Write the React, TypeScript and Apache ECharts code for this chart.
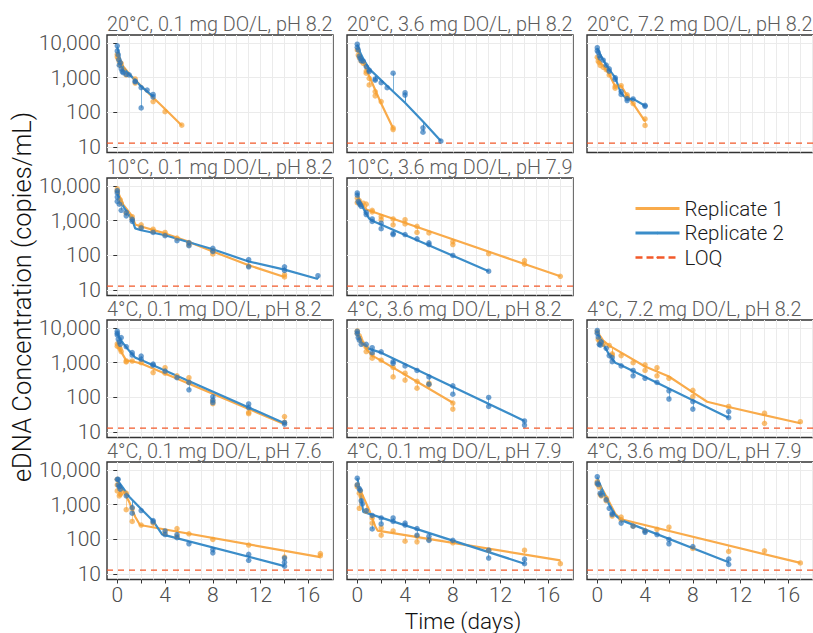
import React, { useEffect, useRef } from "react";
import * as echarts from "echarts";

type Pt = [number, number];

// ---------- axis constants ----------
const X_MIN = -0.86;
const X_MAX = 18.06;
const Y_MIN = 7;
const Y_MAX = 17000;
const LOQ = 13;
const X_LABEL_VALUES = [0, 4, 8, 12, 16];
const X_TICK_VALUES = [0, 2, 4, 6, 8, 10, 12, 14, 16];
const X_GRID_VALUES = [0, 1, 2, 3, 4, 5, 6, 7, 8, 9, 10, 11, 12, 13, 14, 15, 16, 17, 18];
const Y_TICK_VALUES = [10, 100, 1000, 10000];

const TITLES = [
  "20°C, 0.1 mg DO/L, pH 8.2",
  "20°C, 3.6 mg DO/L, pH 8.2",
  "20°C, 7.2 mg DO/L, pH 8.2",
  "10°C, 0.1 mg DO/L, pH 8.2",
  "10°C, 3.6 mg DO/L, pH 7.9",
  "4°C, 0.1 mg DO/L, pH 8.2",
  "4°C, 3.6 mg DO/L, pH 8.2",
  "4°C, 7.2 mg DO/L, pH 8.2",
  "4°C, 0.1 mg DO/L, pH 7.6",
  "4°C, 0.1 mg DO/L, pH 7.9",
  "4°C, 3.6 mg DO/L, pH 7.9",
];

// ---------- data: [time (days), copies/mL] ----------
// Panel A: 20°C, 0.1 mg DO/L, pH 8.2
const A_r1_obs: Pt[] = [[0,4700],[0,4000],[0.08,3500],[0.17,2900],[0.25,2300],[0.33,2600],[0.5,1700],[0.75,1200],[1.5,920],[1.5,700],[3,205],[4,105],[5.4,43]];
const A_r1_fit: Pt[] = [[0,4800],[0.25,3000],[0.5,2100],[1,1300],[1.5,850],[2,580],[3,270],[4,125],[5.4,42]];
const A_r2_obs: Pt[] = [[0,8300],[0,5900],[0.08,4600],[0.13,3300],[0.17,2300],[0.25,2700],[0.33,1800],[0.42,1500],[0.5,1400],[0.75,1250],[1,1200],[1.5,800],[1.5,760],[2,520],[2,135],[2.5,440],[3,330],[3,280]];
const A_r2_fit: Pt[] = [[0,7500],[0.17,4200],[0.33,2600],[0.5,1900],[1,1250],[1.5,850],[2,560],[2.5,400],[3,290]];

// Panel B: 20°C, 3.6 mg DO/L, pH 8.2
const B_r1_obs: Pt[] = [[0,6300],[0.08,4500],[0.17,3800],[0.33,3000],[0.5,2600],[0.75,1550],[0.75,1350],[1,960],[1,620],[1.5,400],[1.5,300],[2,205],[3,36],[3,32]];
const B_r1_fit: Pt[] = [[0,6500],[0.5,2800],[1,1100],[2,180],[3,35]];
const B_r2_obs: Pt[] = [[0,9200],[0,7500],[0.08,6300],[0.17,4200],[0.25,3600],[0.33,3100],[0.5,3000],[0.75,2100],[1,1660],[1,1500],[1.5,920],[1.5,850],[2,720],[2.5,515],[3,1350],[4,370],[4,315],[5.5,36],[5.5,27],[7,15]];
const B_r2_fit: Pt[] = [[0,9000],[0.25,5200],[0.5,3500],[1,1800],[3,400],[4,190],[5.5,55],[7,15]];

// Panel C: 20°C, 7.2 mg DO/L, pH 8.2
const C_r1_obs: Pt[] = [[0,3900],[0.08,3000],[0.17,2700],[0.25,2250],[0.5,2000],[0.75,1700],[1,1200],[1.5,560],[1.5,500],[2,590],[2.5,320],[2.5,280],[3,180],[4,65],[4,42]];
const C_r1_fit: Pt[] = [[0,3900],[0.25,2700],[0.5,2200],[1,1250],[1.5,560],[2,580],[2.5,300],[3,180],[4,55]];
const C_r2_obs: Pt[] = [[0,7300],[0,6000],[0.08,5400],[0.17,4300],[0.25,3700],[0.5,3200],[0.75,2300],[1,1550],[1,1800],[1.5,1000],[1.5,900],[2,330],[2,400],[2.5,250],[2.5,220],[3,245],[4,160],[4,150]];
const C_r2_fit: Pt[] = [[0,7000],[0.25,4600],[0.5,3300],[0.75,2300],[1,1700],[1.5,1000],[2,350],[2.5,240],[3,245],[4,155]];

// Panel D: 10°C, 0.1 mg DO/L, pH 8.2
const D_r1_obs: Pt[] = [[0,8200],[0,7000],[0.25,4000],[0.33,3200],[0.75,1650],[1.25,1300],[1.25,1100],[2,760],[2,650],[3,570],[3,500],[4,460],[4,400],[5,315],[6,235],[6,200],[8,138],[8,110],[11,50],[14,28],[14,24]];
const D_r1_fit: Pt[] = [[0,7500],[0.5,2900],[1.25,1350],[1.5,780],[2,680],[4,430],[6,245],[8,130],[11,52],[14,24]];
const D_r2_obs: Pt[] = [[0,7400],[0,6300],[0,4800],[0,3600],[0.17,3000],[0.33,2000],[0.75,1750],[0.75,1380],[1.25,960],[1.25,1100],[2,620],[3,460],[4,370],[5,265],[6,230],[6,190],[8,160],[8,130],[11,75],[11,47],[14,47],[14,37],[16.8,26]];
const D_r2_fit: Pt[] = [[0,6000],[0.5,2600],[1.25,1050],[1.5,600],[2,530],[4,380],[6,240],[8,150],[11,67],[14,39],[16.8,21]];

// Panel E: 10°C, 3.6 mg DO/L, pH 7.9
const E_r1_obs: Pt[] = [[0,4500],[0,3300],[0.17,3800],[0.25,3000],[0.5,3200],[0.75,3000],[1.25,2000],[1.25,1800],[2,1320],[2,1070],[3,1120],[3,760],[4,1070],[4,810],[5,690],[5,460],[6,445],[8,250],[8,205],[11,112],[14,71],[14,56],[17,25]];
const E_r1_fit: Pt[] = [[0,4500],[0.25,3500],[0.5,2700],[0.75,2100],[17,25]];
const E_r2_obs: Pt[] = [[0,6300],[0,5500],[0.08,3600],[0.17,3200],[0.25,2900],[0.33,2600],[0.75,1750],[0.75,1500],[1.25,1120],[1.25,950],[2,850],[2,590],[3,430],[3,400],[4,400],[5,300],[6,230],[6,205],[8,100],[11,35]];
const E_r2_fit: Pt[] = [[0,6000],[0.25,3400],[0.5,2300],[0.75,1600],[1,1150],[1.25,1000],[11,35]];

// Panel F: 4°C, 0.1 mg DO/L, pH 8.2
const F_r1_obs: Pt[] = [[0,3500],[0,3000],[0.17,2800],[0.25,2450],[0.33,2100],[0.75,1120],[0.75,1050],[1.25,1120],[2,1000],[3,520],[4,720],[4,500],[5,420],[6,370],[6,270],[8,66],[8,80],[11,37],[11,34],[14,28],[14,19]];
const F_r1_fit: Pt[] = [[0,3800],[0.25,2300],[0.75,1150],[1.25,1100],[2,950],[14,17]];
const F_r2_obs: Pt[] = [[0,8100],[0,7000],[0,6300],[0.08,4800],[0.17,4000],[0.25,3400],[0.33,5300],[0.75,2900],[1.25,1950],[1.25,1660],[2,1550],[2,1260],[3,910],[3,850],[4,575],[5,370],[6,270],[6,166],[8,105],[8,84],[8,71],[11,65],[11,51],[14,19],[14,17]];
const F_r2_fit: Pt[] = [[0,7000],[0.25,4800],[0.5,3600],[1,2200],[1.5,1400],[2,1200],[14,18]];

// Panel G: 4°C, 3.6 mg DO/L, pH 8.2
const G_r1_obs: Pt[] = [[0,8200],[0,7000],[0.17,5900],[0.25,5000],[0.33,4200],[0.5,3500],[0.75,2800],[0.75,2100],[1.25,1750],[1.25,1350],[2,1180],[3,730],[3,390],[4,500],[4,315],[5,290],[5,185],[6,230],[6,260],[8,69],[8,46]];
const G_r1_fit: Pt[] = [[0,7500],[0.25,5000],[0.5,3500],[1,2000],[1.25,1600],[2,1150],[8,70]];
const G_r2_obs: Pt[] = [[0,6900],[0,8000],[0.08,5300],[0.17,4500],[0.33,3400],[0.75,3400],[1.25,2700],[1.25,1950],[2,2050],[3,1070],[3,950],[4,810],[5,600],[6,390],[6,240],[8,215],[8,124],[11,100],[11,55],[14,21],[14,16]];
const G_r2_fit: Pt[] = [[0,7000],[0.25,4600],[0.5,3500],[1,2500],[2,1950],[14,21]];

// Panel H: 4°C, 7.2 mg DO/L, pH 8.2
const H_r1_obs: Pt[] = [[0,7800],[0.08,4700],[0.17,4200],[0.25,3600],[0.5,3400],[1,3150],[1.25,1800],[1.25,1650],[2,1600],[3,1000],[4,870],[4,600],[5,720],[5,420],[6,355],[8,160],[8,105],[11,55],[14,35],[14,18],[17,20]];
const H_r1_fit: Pt[] = [[0,7800],[0.5,4300],[1,3100],[4,780],[6,400],[8,140],[9.2,75],[11,53],[17,18]];
const H_r2_obs: Pt[] = [[0,8500],[0,7000],[0.08,5500],[0.17,3400],[0.25,3200],[0.33,4000],[0.75,2600],[1,1600],[1.25,1400],[1.25,1070],[2,810],[3,600],[3,420],[4,355],[5,270],[6,155],[6,90],[8,76],[8,46],[11,39],[11,26]];
const H_r2_fit: Pt[] = [[0,7000],[0.5,3400],[1,1700],[1.5,1000],[2,850],[11,26]];

// Panel I: 4°C, 0.1 mg DO/L, pH 7.6
const I_r1_obs: Pt[] = [[0,5400],[0,3700],[0,2500],[0.17,1800],[0.25,2000],[0.33,2200],[0.75,2150],[0.75,720],[1.25,770],[1.25,330],[2,260],[3,295],[4,155],[5,205],[5,124],[6,145],[8,100],[11,69],[14,31],[17,39],[17,34]];
const I_r1_fit: Pt[] = [[0,4500],[0.5,2600],[1,1200],[1.5,450],[1.9,260],[17,31]];
const I_r2_obs: Pt[] = [[0,5400],[0.08,5400],[0.08,3700],[0.17,3300],[0.25,2800],[0.75,1800],[1.25,830],[1.25,570],[2,680],[3,350],[3,320],[4,175],[4,138],[5,138],[5,112],[6,75],[8,51],[8,41],[11,37],[11,25],[14,29],[14,22],[14,17]];
const I_r2_fit: Pt[] = [[0,5200],[0.5,3000],[1,1700],[2,750],[3,340],[3.75,140],[14,17]];

// Panel J: 4°C, 0.1 mg DO/L, pH 7.9
const J_r1_obs: Pt[] = [[0,3700],[0,3300],[0.17,2150],[0.25,2500],[0.33,1750],[0.17,790],[0.75,650],[1.25,415],[1.25,295],[2,215],[2,132],[3,175],[4,89],[5,124],[5,85],[6,100],[8,80],[11,49],[14,49],[17,20]];
const J_r1_fit: Pt[] = [[0,3800],[0.25,2600],[0.5,1700],[1,700],[1.5,240],[1.7,180],[17,25]];
const J_r2_obs: Pt[] = [[0,5800],[0,3700],[0.17,2900],[0.25,2600],[0.33,1300],[0.42,1050],[0.75,680],[1.25,490],[1.25,200],[2,415],[2,280],[3,415],[3,330],[4,295],[4,260],[5,205],[5,132],[6,124],[6,94],[8,94],[11,49],[11,29],[14,27],[14,20]];
const J_r2_fit: Pt[] = [[0,5800],[0.25,2400],[0.5,620],[14,20]];

// Panel K: 4°C, 3.6 mg DO/L, pH 7.9
const K_r1_obs: Pt[] = [[0,4600],[0,3900],[0.17,3200],[0.25,2000],[0.33,1800],[0.75,1550],[0.75,1300],[1.25,470],[2,440],[2,370],[3,240],[4,175],[5,195],[6,225],[8,55],[11,45],[14,47],[17,21]];
const K_r1_fit: Pt[] = [[0,4500],[0.5,2500],[1,1200],[1.5,550],[2,380],[17,21]];
const K_r2_obs: Pt[] = [[0,6400],[0,4200],[0.08,3800],[0.25,2150],[0.33,1900],[0.75,1380],[1,790],[1.25,575],[1.25,520],[2,295],[3,240],[4,175],[4,160],[5,138],[6,100],[6,75],[8,62],[11,27],[11,19]];
const K_r2_fit: Pt[] = [[0,6000],[0.5,2300],[1,1000],[1.5,500],[2,360],[11,22]];

// ---------- layout & style ----------
const COL_LEFT = [107, 347, 587];
const ROW_TOP = [35, 178, 320, 462];
const PANEL_W = 226;
const PANEL_H = 117.5;
const FONT = "Roboto, 'Liberation Sans', Arial, sans-serif";
const LIGHT = 300;
const ORANGE = "#F9AB4B";
const BLUE = "#3B8DC9";
const ORANGE_PT = "rgba(246,160,50,0.85)";
const BLUE_PT = "rgba(40,115,185,0.85)";
const LOQ_COLOR = "#F2592A";
const GRID_COLOR = "#EBEBEB";

const PANELS = [
  { col: 0, row: 0, r1o: A_r1_obs, r1f: A_r1_fit, r2o: A_r2_obs, r2f: A_r2_fit },
  { col: 1, row: 0, r1o: B_r1_obs, r1f: B_r1_fit, r2o: B_r2_obs, r2f: B_r2_fit },
  { col: 2, row: 0, r1o: C_r1_obs, r1f: C_r1_fit, r2o: C_r2_obs, r2f: C_r2_fit },
  { col: 0, row: 1, r1o: D_r1_obs, r1f: D_r1_fit, r2o: D_r2_obs, r2f: D_r2_fit },
  { col: 1, row: 1, r1o: E_r1_obs, r1f: E_r1_fit, r2o: E_r2_obs, r2f: E_r2_fit },
  { col: 0, row: 2, r1o: F_r1_obs, r1f: F_r1_fit, r2o: F_r2_obs, r2f: F_r2_fit },
  { col: 1, row: 2, r1o: G_r1_obs, r1f: G_r1_fit, r2o: G_r2_obs, r2f: G_r2_fit },
  { col: 2, row: 2, r1o: H_r1_obs, r1f: H_r1_fit, r2o: H_r2_obs, r2f: H_r2_fit },
  { col: 0, row: 3, r1o: I_r1_obs, r1f: I_r1_fit, r2o: I_r2_obs, r2f: I_r2_fit },
  { col: 1, row: 3, r1o: J_r1_obs, r1f: J_r1_fit, r2o: J_r2_obs, r2f: J_r2_fit },
  { col: 2, row: 3, r1o: K_r1_obs, r1f: K_r1_fit, r2o: K_r2_obs, r2f: K_r2_fit },
];

const lg = (v: number) => Math.log10(v);

// fitted value (log10) at time t along the fitted curve (used for residual segments)
function fitAt(fit: Pt[], t: number): number {
  if (t <= fit[0][0]) return lg(fit[0][1]);
  for (let k = 1; k < fit.length; k++) {
    if (t <= fit[k][0]) {
      const [t0, v0] = fit[k - 1];
      const [t1, v1] = fit[k];
      const f = (t - t0) / (t1 - t0);
      return lg(v0) + f * (lg(v1) - lg(v0));
    }
  }
  return lg(fit[fit.length - 1][1]);
}

function buildOption(): any {
  const grid: any[] = [];
  const xAxis: any[] = [];
  const yAxis: any[] = [];
  const title: any[] = [];
  const series: any[] = [];

  PANELS.forEach((p, i) => {
    const bottom = p.row === 3;
    const left = p.col === 0;
    grid.push({
      left: COL_LEFT[p.col],
      top: ROW_TOP[p.row],
      width: PANEL_W,
      height: PANEL_H,
      show: true,
      borderColor: "#333333",
      borderWidth: 1.4,
      backgroundColor: "#ffffff",
      containLabel: false,
    });
    title.push({
      text: TITLES[i],
      left: COL_LEFT[p.col],
      top: ROW_TOP[p.row] - 21,
      padding: 0,
      textStyle: { fontSize: 19.8, fontWeight: LIGHT, color: "#5c5c5c", fontFamily: FONT },
    });
    // main x axis (ticks & labels)
    xAxis.push({
      type: "value",
      gridIndex: i,
      min: X_MIN,
      max: X_MAX,
      axisLine: { show: false },
      axisTick: {
        show: bottom,
        customValues: X_TICK_VALUES,
        length: 4,
        lineStyle: { color: "#333333", width: 1 },
      },
      axisLabel: {
        show: bottom,
        customValues: X_LABEL_VALUES,
        fontSize: 21,
        fontWeight: LIGHT,
        color: "#4d4d4d",
        fontFamily: FONT,
        margin: 5,
      },
      splitLine: { show: false },
    });
    // second x axis: vertical grid lines every day
    xAxis.push({
      type: "value",
      gridIndex: i,
      min: X_MIN,
      max: X_MAX,
      axisLine: { show: false },
      axisTick: { show: false, customValues: X_GRID_VALUES },
      axisLabel: { show: false },
      splitLine: { show: true, lineStyle: { color: GRID_COLOR, width: 1 } },
    });
    yAxis.push({
      type: "value",
      gridIndex: i,
      min: lg(Y_MIN),
      max: lg(Y_MAX),
      axisLine: { show: false },
      axisTick: {
        show: left,
        customValues: Y_TICK_VALUES.map(lg),
        length: 4,
        lineStyle: { color: "#333333", width: 1 },
      },
      axisLabel: {
        show: left,
        customValues: Y_TICK_VALUES.map(lg),
        fontSize: 21,
        fontWeight: LIGHT,
        color: "#4d4d4d",
        fontFamily: FONT,
        margin: 6,
        formatter: (v: number) => Math.round(Math.pow(10, v)).toLocaleString("en-US"),
      },
      splitLine: { show: true, lineStyle: { color: GRID_COLOR, width: 1 } },
    });

    const xi = 2 * i;
    const reps = [
      { name: "Replicate 1", obs: p.r1o, fit: p.r1f, line: ORANGE, pt: ORANGE_PT },
      { name: "Replicate 2", obs: p.r2o, fit: p.r2f, line: BLUE, pt: BLUE_PT },
    ];

    series.push({
      type: "line",
      name: "LOQ",
      xAxisIndex: xi,
      yAxisIndex: i,
      data: [[X_MIN, lg(LOQ)], [X_MAX, lg(LOQ)]],
      symbol: "none",
      silent: true,
      color: LOQ_COLOR,
      lineStyle: { color: LOQ_COLOR, width: 1.4, type: [6, 5] },
      z: 1,
    });

    reps.forEach((r) => {
      series.push({
        type: "lines",
        name: r.name + " residual",
        coordinateSystem: "cartesian2d",
        xAxisIndex: xi,
        yAxisIndex: i,
        silent: true,
        data: r.obs.map(([t, v]) => ({ coords: [[t, fitAt(r.fit, t)], [t, lg(v)]] })),
        lineStyle: { color: r.line, width: 1, opacity: 0.6 },
        z: 2,
      });
    });
    reps.forEach((r) => {
      series.push({
        type: "line",
        name: r.name,
        xAxisIndex: xi,
        yAxisIndex: i,
        data: r.fit.map(([t, v]) => [t, lg(v)]),
        symbol: "none",
        silent: true,
        color: r.line,
        lineStyle: { color: r.line, width: 2.2 },
        z: 3,
      });
    });
    reps.forEach((r) => {
      series.push({
        type: "scatter",
        name: r.name + " obs",
        xAxisIndex: xi,
        yAxisIndex: i,
        data: r.obs.map(([t, v]) => [t, lg(v)]),
        symbolSize: 5.5,
        silent: true,
        itemStyle: { color: r.pt },
        z: 4,
      });
    });
  });

  return {
    animation: false,
    backgroundColor: "#ffffff",
    textStyle: { fontFamily: FONT },
    grid,
    xAxis,
    yAxis,
    title,
    legend: {
      data: [
        { name: "Replicate 1" },
        { name: "Replicate 2" },
        { name: "LOQ", lineStyle: { type: [7, 4], width: 2.4 } },
      ],
      orient: "vertical",
      left: 634,
      top: 198,
      padding: 0,
      itemWidth: 44,
      itemHeight: 3,
      itemGap: 3.5,
      selectedMode: false,
      lineStyle: { width: 3 },
      textStyle: {
        fontSize: 20.5,
        lineHeight: 20,
        fontWeight: LIGHT,
        color: "#1a1a1a",
        fontFamily: FONT,
      },
    },
    graphic: [
      {
        type: "text",
        x: 22,
        y: 297,
        rotation: Math.PI / 2,
        style: {
          text: "eDNA Concentration (copies/mL)",
          fontSize: 25.5,
          fontWeight: LIGHT,
          fontFamily: FONT,
          fill: "#111111",
          align: "center",
          verticalAlign: "middle",
        },
      },
      {
        type: "text",
        x: 463,
        y: 621,
        style: {
          text: "Time (days)",
          fontSize: 22.5,
          fontWeight: LIGHT,
          fontFamily: FONT,
          fill: "#111111",
          align: "center",
          verticalAlign: "middle",
        },
      },
    ],
    series,
  };
}

export default function App() {
  const ref = useRef<HTMLDivElement>(null);
  useEffect(() => {
    if (!ref.current) return;
    const chart = echarts.init(ref.current, null, { renderer: "svg" });
    chart.setOption(buildOption());
    return () => chart.dispose();
  }, []);
  return (
    <div
      ref={ref}
      style={{ position: "fixed", left: 0, top: 0, width: 813, height: 633, background: "#ffffff" }}
    />
  );
}
